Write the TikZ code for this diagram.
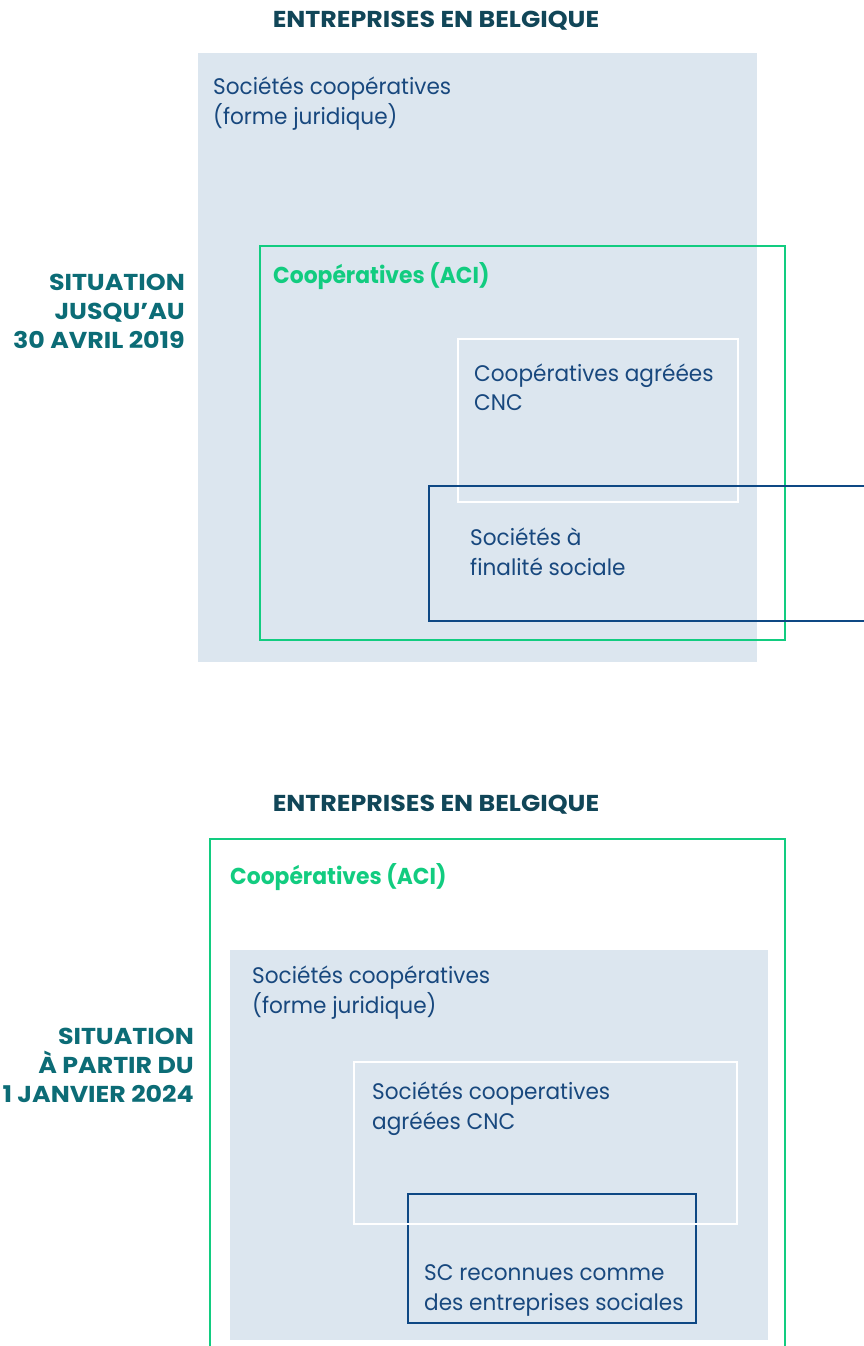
\documentclass[tikz,border=0pt]{standalone}
\usepackage{fontspec}
\setmainfont{Poppins}
\newfontfamily\bodyfont[FakeStretch=0.96]{Poppins}
\newfontfamily\narrowbold[FakeStretch=0.95]{Poppins}
\newfontfamily\widebold[FakeStretch=1.1]{Poppins}
\definecolor{panel}{RGB}{220,230,239}
\definecolor{aci}{RGB}{18,204,128}
\definecolor{navy}{RGB}{14,72,132}
\definecolor{bodytext}{RGB}{24,72,126}
\definecolor{heading}{RGB}{17,70,88}
\definecolor{period}{RGB}{12,108,118}
\tikzset{
  boxbase/.style={rectangle, inner sep=0pt, outer sep=0pt, anchor=north west},
  panelbox/.style={boxbase, fill=panel},
  acibox/.style={boxbase, draw=aci, line width=2.6pt},
  cncbox/.style={boxbase, draw=white, line width=2.2pt},
  socbox/.style={boxbase, draw=navy, line width=2.6pt},
  lbl/.style={inner sep=0pt, anchor=base west, text=bodytext, font=\bodyfont\fontsize{22.5}{30}\selectfont},
  acilbl/.style={inner sep=0pt, anchor=base west, text=aci, font=\narrowbold\fontsize{23}{28}\selectfont\bfseries},
  title/.style={inner sep=0pt, anchor=base, text=heading, font=\widebold\fontsize{23}{28}\selectfont\bfseries},
  periodlbl/.style={inner sep=0pt, anchor=base east, text=period, font=\widebold\fontsize{23}{28}\selectfont\bfseries},
}
\begin{document}
\begin{tikzpicture}[x=1pt,y=-1pt]
\useasboundingbox (0,0) rectangle (864,1346);
\clip (0,0) rectangle (864,1346);

% ---------- upper diagram: until 30 April 2019 ----------
\node[title] (titleA) at (436,28) {ENTREPRISES EN BELGIQUE};
\node[panelbox, minimum width=559pt, minimum height=609pt] (legalA) at (198,53) {};
\node[acibox, minimum width=525pt, minimum height=394pt] (aciA) at (260,246) {};
\node[cncbox, minimum width=280pt, minimum height=163pt] (cncA) at (458,339) {};
\node[socbox, minimum width=460pt, minimum height=135pt] (sfsA) at (429,486) {};

\node[lbl] (legalA1) at (213,94) {Sociétés coopératives};
\node[lbl] (legalA2) at (213,124) {(forme juridique)};
\node[acilbl] (aciA1) at (273,283) {Coopératives (ACI)};
\node[lbl] (cncA1) at (474,381) {Coopératives agréées};
\node[lbl] (cncA2) at (474,410) {CNC};
\node[lbl] (sfsA1) at (470,545) {Sociétés à};
\node[lbl] (sfsA2) at (470,575) {finalité sociale};

\node[periodlbl] (periodA1) at (185,290) {SITUATION};
\node[periodlbl] (periodA2) at (185,319) {JUSQU’AU};
\node[periodlbl] (periodA3) at (185,348) {30 AVRIL 2019};

% ---------- lower diagram: from 1 January 2024 ----------
\node[title] (titleB) at (436,811) {ENTREPRISES EN BELGIQUE};
\node[acibox, minimum width=575pt, minimum height=540pt] (aciB) at (210,839) {};
\node[panelbox, minimum width=538pt, minimum height=390pt] (legalB) at (230,950) {};
\node[socbox, minimum width=288pt, minimum height=129pt] (scB) at (408,1194) {};
\node[cncbox, minimum width=383pt, minimum height=162pt] (cncB) at (354,1062) {};

\node[acilbl] (aciB1) at (230,884) {Coopératives (ACI)};
\node[lbl] (legalB1) at (252,983) {Sociétés coopératives};
\node[lbl] (legalB2) at (252,1013) {(forme juridique)};
\node[lbl] (cncB1) at (372,1099) {Sociétés cooperatives};
\node[lbl] (cncB2) at (372,1129) {agréées CNC};
\node[lbl] (scB1) at (424,1280) {SC reconnues comme};
\node[lbl] (scB2) at (424,1310) {des entreprises sociales};

\node[periodlbl] (periodB1) at (194,1044) {SITUATION};
\node[periodlbl] (periodB2) at (194,1073) {À PARTIR DU};
\node[periodlbl] (periodB3) at (194,1102) {1 JANVIER 2024};
\end{tikzpicture}
\end{document}
